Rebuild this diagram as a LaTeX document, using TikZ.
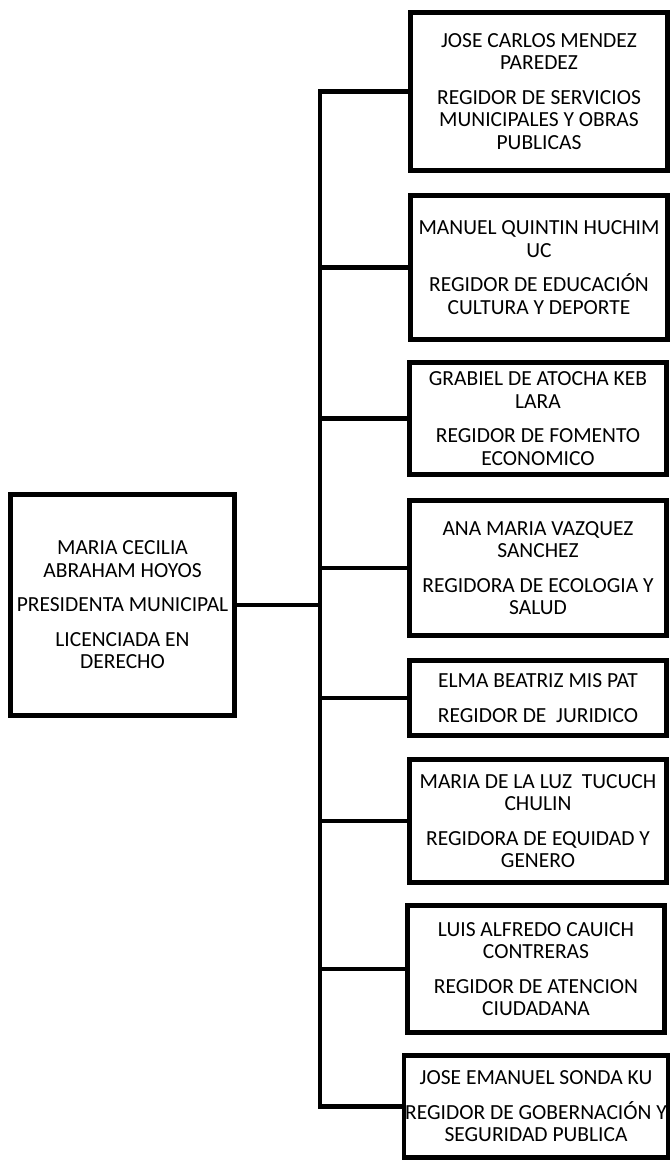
\documentclass[tikz,border=0pt]{standalone}
\usepackage{fontspec}
\setmainfont{Carlito}
\usetikzlibrary{positioning}

\begin{document}
\begin{tikzpicture}[
    x=1pt, y=-1pt,
    cargo/.style={draw=black, line width=4.5pt, align=center, inner sep=1pt,
        font=\fontsize{21.5}{22.5}\selectfont},
    regidor/.style={cargo, minimum width=257pt},
    rama/.style={line width=4.5pt, draw=black}
]
    \useasboundingbox (0,0) rectangle (672,1163);

    % --- Presidenta ---
    \node[cargo, minimum width=224pt, minimum height=221pt] (pres) at (122.5,605)
        {MARIA CECILIA\\ABRAHAM HOYOS\\[12pt]PRESIDENTA MUNICIPAL\\[12pt]LICENCIADA EN\\DERECHO};

    % --- Regidores ---
    \node[regidor, minimum height=158pt] (r1) at (539,91.5)
        {JOSE CARLOS MENDEZ\\PAREDEZ\\[12pt]REGIDOR DE SERVICIOS\\MUNICIPALES Y OBRAS\\PUBLICAS};
    \node[regidor, minimum height=144pt] (r2) at (539,267.5)
        {MANUEL QUINTIN HUCHIM\\UC\\[12pt]REGIDOR DE EDUCACIÓN\\CULTURA Y DEPORTE};
    \node[regidor, minimum height=112pt] (r3) at (538,418.5)
        {GRABIEL DE ATOCHA KEB\\LARA\\[12pt]REGIDOR DE FOMENTO\\ECONOMICO};
    \node[regidor, minimum height=135pt] (r4) at (538,568)
        {ANA MARIA VAZQUEZ\\SANCHEZ\\[12pt]REGIDORA DE ECOLOGIA Y\\SALUD};
    \node[regidor, minimum height=75pt] (r5) at (538,698)
        {ELMA BEATRIZ MIS PAT\\[12pt]REGIDOR DE\ \ JURIDICO};
    \node[regidor, minimum height=123pt] (r6) at (538,821)
        {MARIA DE LA LUZ\ \ TUCUCH\\CHULIN\\[12pt]REGIDORA DE EQUIDAD Y\\GENERO};
    \node[regidor, minimum height=127pt] (r7) at (536,969)
        {LUIS ALFREDO CAUICH\\CONTRERAS\\[12pt]REGIDOR DE ATENCION\\CIUDADANA};
    \node[regidor, minimum height=102pt] (r8) at (536,1106.5)
        {JOSE EMANUEL SONDA KU\\[12pt]REGIDOR DE GOBERNACIÓN Y\\SEGURIDAD PUBLICA};

    % --- Conectores ---
    \coordinate (tronco) at (320,605);
    \draw[rama] (pres.east) -- (tronco);
    \draw[rama, line cap=rect] (tronco |- r1.west) -- (tronco |- r8.west);
    \foreach \r in {r1,r2,r3,r4,r5,r6,r7,r8}
        \draw[rama] (tronco |- \r.west) -- (\r.west);

\end{tikzpicture}
\end{document}
